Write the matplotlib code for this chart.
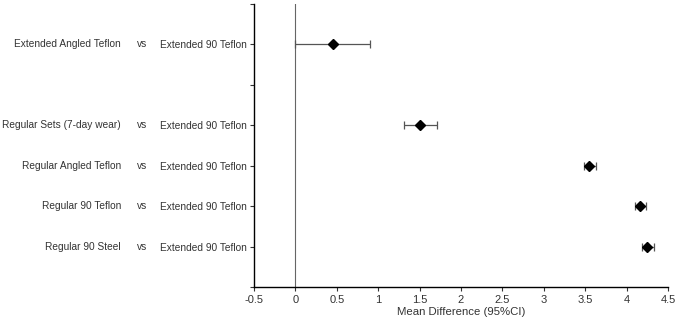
import matplotlib
matplotlib.use("Agg")
import matplotlib.pyplot as plt

plt.rcParams["font.family"] = ["Liberation Sans", "DejaVu Sans"]

# comparisons, top to bottom (None = empty slot)
left_labels = ["Extended Angled Teflon", None, "Regular Sets (7-day wear)",
               "Regular Angled Teflon", "Regular 90 Teflon", "Regular 90 Steel"]
ref_label = "Extended 90 Teflon"
means = [0.45, None, 1.51, 3.55, 4.16, 4.25]
ci_low = [0.0, None, 1.31, 3.48, 4.10, 4.18]
ci_high = [0.90, None, 1.71, 3.63, 4.23, 4.33]
xticks = [-0.5, 0, 0.5, 1, 1.5, 2, 2.5, 3, 3.5, 4, 4.5]

TXT = "#333333"
FS = 7.3

fig = plt.figure(figsize=(6.79, 3.23), dpi=100)
ax = fig.add_axes([0.374, 0.111, 0.61, 0.877])

n = len(left_labels)
ypos = [n - i for i in range(n)]
for y, m, lo, hi in zip(ypos, means, ci_low, ci_high):
    if m is None:
        continue
    ax.errorbar(m, y, xerr=[[m - lo], [hi - m]], fmt="none", ecolor="#555555",
                elinewidth=0.9, capsize=3, capthick=0.9, zorder=2)
    ax.plot(m, y, marker="D", color="black", markersize=5.3, zorder=3)

ax.axvline(0, color="#666666", lw=0.8, zorder=1)
ax.set_xlim(-0.5, 4.5)
ax.set_ylim(0, n + 1)
ax.set_xticks(xticks)
ax.set_xticklabels([f"{t:g}" for t in xticks])
ax.set_yticks(range(0, n + 2))
ytl = [""] * (n + 2)
for y, lab in zip(ypos, left_labels):
    if lab is not None:
        ytl[y] = ref_label
ax.set_yticklabels(ytl)
for y, lab in zip(ypos, left_labels):
    if lab is None:
        continue
    fy = ax.transData.transform((0, y))[1] / 323
    ax.text(121 / 679, fy, lab, transform=fig.transFigure,
            ha="right", va="center", fontsize=FS, color=TXT)
    ax.text(142 / 679, fy, "vs", transform=fig.transFigure,
            ha="center", va="center", fontsize=FS, color=TXT)

ax.spines["top"].set_visible(False)
ax.spines["right"].set_visible(False)
ax.spines["left"].set_linewidth(1.0)
ax.spines["bottom"].set_linewidth(1.0)
ax.tick_params(axis="both", length=3, width=0.8, colors=TXT)
ax.tick_params(axis="y", labelsize=FS, pad=2)
ax.tick_params(axis="x", labelsize=8, pad=3)
ax.set_xlabel("Mean Difference (95%CI)", fontsize=8.2, color=TXT, labelpad=1)

fig.savefig("out.png", dpi=100)
